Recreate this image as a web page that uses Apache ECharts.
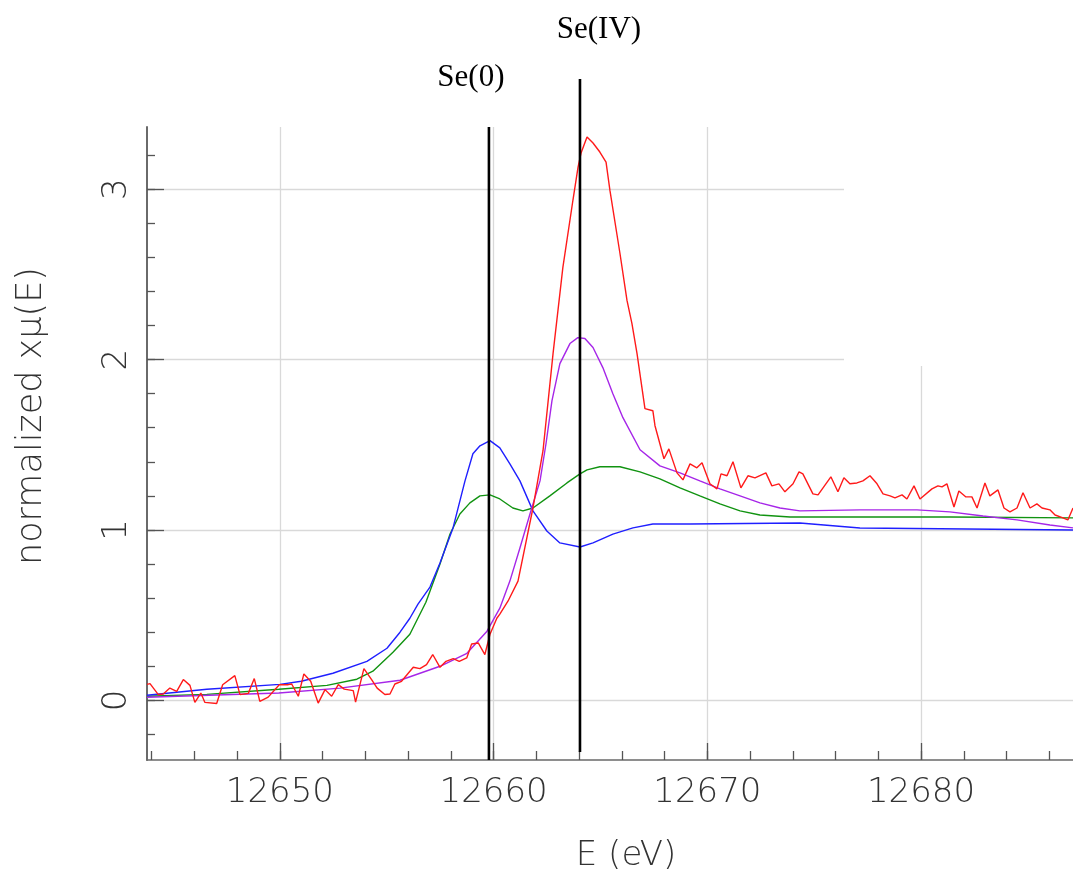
<!DOCTYPE html>
<html>
<head>
<meta charset="utf-8">
<script src="https://cdn.jsdelivr.net/npm/echarts@6/dist/echarts.min.js"></script>
<style>
  html, body { margin: 0; padding: 0; background: #ffffff; }
  #chart { width: 1073px; height: 873px; }
</style>
</head>
<body>
<div id="chart"></div>
<script>
// Se K-edge XANES, normalized absorption vs. photon energy

const E_MIN = 12643.78;
const E_MAX = 12687.11;
const MU_MIN = -0.35;
const MU_MAX = 3.365;

const xMajorTicks = [12650, 12660, 12670, 12680];
const xMinorTicks = [12644, 12646, 12648, 12650, 12652, 12654, 12656, 12658, 12660, 12662, 12664,
                     12666, 12668, 12670, 12672, 12674, 12676, 12678, 12680, 12682, 12684, 12686];
const yMajorTicks = [0, 1, 2, 3];
const yMinorTicks = [-0.2, 0, 0.2, 0.4, 0.6, 0.8, 1, 1.2, 1.4, 1.6, 1.8, 2, 2.2, 2.4, 2.6, 2.8, 3, 3.2];

// reference edge positions
const edgeEnergies = [12659.78, 12664.04];
const edgeLabels = ['Se(0)', 'Se(IV)'];

// [E (eV), normalized mu]
const blueData = [
  [12643.78, 0.030], [12646.58, 0.065], [12650.00, 0.094], [12651.00, 0.112], [12652.48, 0.159],
  [12654.07, 0.229], [12655.01, 0.306], [12655.62, 0.400], [12656.08, 0.482], [12656.46, 0.565],
  [12657.02, 0.665], [12657.49, 0.806], [12658.10, 1.012], [12658.66, 1.288], [12659.03, 1.447],
  [12659.36, 1.494], [12659.83, 1.524], [12660.29, 1.482], [12660.76, 1.388], [12661.23, 1.288],
  [12661.84, 1.112], [12662.49, 0.994], [12663.10, 0.924], [12664.04, 0.900], [12664.65, 0.924],
  [12665.58, 0.976], [12666.52, 1.012], [12667.45, 1.035], [12669.19, 1.035], [12674.33, 1.041],
  [12677.14, 1.012], [12687.11, 1.000]
];

const greenData = [
  [12643.78, 0.024], [12646.58, 0.035], [12649.95, 0.065], [12652.20, 0.088], [12653.60, 0.124],
  [12654.35, 0.171], [12655.29, 0.282], [12656.08, 0.388], [12656.83, 0.576], [12657.49, 0.800],
  [12657.96, 0.976], [12658.42, 1.094], [12658.89, 1.159], [12659.36, 1.200], [12659.83, 1.206],
  [12660.29, 1.182], [12660.90, 1.129], [12661.37, 1.112], [12661.84, 1.129], [12662.63, 1.200],
  [12663.43, 1.276], [12664.04, 1.329], [12664.37, 1.353], [12664.97, 1.371], [12665.91, 1.371],
  [12666.85, 1.341], [12667.78, 1.300], [12668.72, 1.247], [12669.65, 1.200], [12670.59, 1.153],
  [12671.53, 1.112], [12672.46, 1.088], [12673.87, 1.076], [12677.14, 1.076], [12681.35, 1.076],
  [12687.11, 1.071]
];

const purpleData = [
  [12643.78, 0.018], [12649.95, 0.043], [12652.81, 0.072], [12655.62, 0.118], [12657.49, 0.200],
  [12658.75, 0.276], [12659.69, 0.406], [12660.29, 0.541], [12660.76, 0.700], [12661.23, 0.894],
  [12661.70, 1.094], [12662.17, 1.288], [12662.45, 1.506], [12662.73, 1.759], [12663.10, 1.976],
  [12663.57, 2.094], [12663.94, 2.129], [12664.27, 2.124], [12664.65, 2.071], [12665.11, 1.953],
  [12665.58, 1.800], [12666.05, 1.659], [12666.85, 1.471], [12667.78, 1.376], [12668.72, 1.335],
  [12669.65, 1.288], [12670.59, 1.241], [12671.53, 1.200], [12672.46, 1.159], [12673.40, 1.129],
  [12674.33, 1.112], [12677.14, 1.118], [12679.81, 1.118], [12681.35, 1.106], [12682.90, 1.082],
  [12684.49, 1.059], [12686.03, 1.029], [12687.11, 1.012]
];

const redData = [
  [12643.78, 0.094], [12643.92, 0.098], [12644.31, 0.034], [12644.54, 0.037], [12644.85, 0.072],
  [12645.17, 0.053], [12645.48, 0.122], [12645.79, 0.088], [12646.02, -0.012], [12646.30, 0.043],
  [12646.49, -0.012], [12647.04, -0.018], [12647.32, 0.092], [12647.89, 0.145], [12648.13, 0.034],
  [12648.52, 0.041], [12648.80, 0.128], [12649.06, -0.006], [12649.45, 0.019], [12649.97, 0.092],
  [12650.39, 0.092], [12650.55, 0.096], [12650.86, 0.024], [12651.12, 0.155], [12651.44, 0.112],
  [12651.79, -0.016], [12652.11, 0.063], [12652.42, 0.024], [12652.73, 0.092], [12653.01, 0.066],
  [12653.43, 0.057], [12653.54, -0.010], [12653.93, 0.186], [12654.29, 0.122], [12654.55, 0.072],
  [12654.91, 0.034], [12655.15, 0.037], [12655.38, 0.096], [12655.69, 0.112], [12656.24, 0.194],
  [12656.55, 0.186], [12656.86, 0.210], [12657.15, 0.269], [12657.49, 0.194], [12657.77, 0.229],
  [12658.11, 0.245], [12658.39, 0.229], [12658.74, 0.249], [12658.97, 0.331], [12659.28, 0.337],
  [12659.59, 0.269], [12659.83, 0.388], [12660.15, 0.482], [12660.29, 0.506], [12660.67, 0.582],
  [12661.14, 0.700], [12661.84, 1.129], [12662.31, 1.465], [12662.78, 2.035], [12663.24, 2.541],
  [12663.71, 2.935], [12663.95, 3.129], [12664.09, 3.212], [12664.37, 3.306], [12664.65, 3.271],
  [12664.97, 3.218], [12665.26, 3.159], [12665.44, 2.994], [12665.91, 2.624], [12666.24, 2.347],
  [12666.47, 2.212], [12666.71, 2.035], [12667.08, 1.712], [12667.45, 1.700], [12667.55, 1.612],
  [12667.97, 1.418], [12668.20, 1.476], [12668.58, 1.335], [12668.86, 1.294], [12669.19, 1.388],
  [12669.51, 1.365], [12669.75, 1.394], [12670.12, 1.271], [12670.45, 1.241], [12670.64, 1.329],
  [12670.92, 1.318], [12671.20, 1.400], [12671.57, 1.247], [12671.90, 1.318], [12672.23, 1.306],
  [12672.74, 1.335], [12673.02, 1.259], [12673.35, 1.271], [12673.63, 1.224], [12674.01, 1.271],
  [12674.29, 1.341], [12674.47, 1.329], [12674.94, 1.212], [12675.18, 1.206], [12675.78, 1.312],
  [12676.11, 1.224], [12676.39, 1.306], [12676.67, 1.271], [12677.00, 1.276], [12677.28, 1.288],
  [12677.61, 1.318], [12677.94, 1.271], [12678.22, 1.212], [12678.55, 1.200], [12678.78, 1.188],
  [12679.11, 1.206], [12679.34, 1.182], [12679.67, 1.259], [12679.95, 1.182], [12680.51, 1.241],
  [12680.79, 1.259], [12680.98, 1.253], [12681.21, 1.271], [12681.54, 1.135], [12681.77, 1.229],
  [12682.10, 1.194], [12682.38, 1.194], [12682.62, 1.129], [12682.99, 1.276], [12683.22, 1.200],
  [12683.60, 1.235], [12683.88, 1.129], [12684.16, 1.106], [12684.49, 1.129], [12684.77, 1.218],
  [12685.10, 1.129], [12685.42, 1.153], [12685.66, 1.129], [12686.03, 1.118], [12686.27, 1.088],
  [12686.64, 1.071], [12686.87, 1.059], [12687.11, 1.129]
];

const LABEL_FONT = "'DejaVu Sans', Roboto, sans-serif";

const tickFont = {
  fontFamily: LABEL_FONT,
  fontWeight: 200,
  fontSize: 34,
  color: '#333333'
};

function plain(v) { return String(v); }

function curve(name, data, color) {
  return {
    name: name,
    type: 'line',
    xAxisIndex: 0,
    yAxisIndex: 0,
    data: data,
    showSymbol: false,
    symbol: 'none',
    lineStyle: { color: color, width: 1.4 },
    animation: false,
    z: 3
  };
}

function edgeLine(i, gridIdx) {
  const e = edgeEnergies[i];
  const yLo = gridIdx === 0 ? MU_MIN : 0;
  const yHi = gridIdx === 0 ? MU_MAX : 1;
  const dx = i === 0 ? -18 : 19;
  return {
    name: edgeLabels[i],
    type: 'line',
    xAxisIndex: gridIdx === 0 ? 0 : 2,
    yAxisIndex: gridIdx === 0 ? 0 : 2,
    data: [
      { value: [e, yLo] },
      { value: [e, yHi], label: {
          show: true, position: 'top', distance: 34, offset: [dx, 0],
          formatter: edgeLabels[i],
          fontFamily: 'Liberation Serif', fontSize: 31, color: '#000000'
        } }
    ],
    showSymbol: true,
    symbol: 'circle',
    symbolSize: 0,
    lineStyle: { color: '#000000', width: 2.6 },
    clip: false,
    animation: false,
    z: 5
  };
}

const chart = echarts.init(document.getElementById('chart'), null, { renderer: 'canvas' });

chart.setOption({
  backgroundColor: '#ffffff',
  animation: false,
  grid: [
    { left: 147, right: 0, top: 127, bottom: 113 },
    { left: 147, right: 0, top: 79, bottom: 121 }
  ],
  xAxis: [
    {
      type: 'value', gridIndex: 0, min: E_MIN, max: E_MAX,
      axisLine: { show: true, onZero: false, lineStyle: { color: '#6a6a6a', width: 1.6 } },
      axisTick: { show: true, inside: true, length: 17, customValues: xMajorTicks,
                  lineStyle: { color: '#555555', width: 1.3 } },
      axisLabel: Object.assign({ show: true, margin: 16, customValues: xMajorTicks, formatter: plain }, tickFont),
      splitLine: { show: true, lineStyle: { color: '#d9d9d9', width: 1.3 } }
    },
    {
      type: 'value', gridIndex: 0, min: E_MIN, max: E_MAX, position: 'bottom', offset: 0,
      axisLine: { show: false, onZero: false },
      axisTick: { show: true, inside: true, length: 9, customValues: xMinorTicks,
                  lineStyle: { color: '#555555', width: 1.3 } },
      axisLabel: { show: false },
      splitLine: { show: false }
    },
    {
      type: 'value', gridIndex: 1, min: E_MIN, max: E_MAX, show: false
    }
  ],
  yAxis: [
    {
      type: 'value', gridIndex: 0, min: MU_MIN, max: MU_MAX,
      axisLine: { show: true, onZero: false, lineStyle: { color: '#6a6a6a', width: 2 } },
      axisTick: { show: true, inside: true, length: 17, customValues: yMajorTicks,
                  lineStyle: { color: '#555555', width: 1.3 } },
      axisLabel: Object.assign({ show: true, margin: 13, rotate: 90, customValues: yMajorTicks, formatter: plain }, tickFont),
      splitLine: { show: true, lineStyle: { color: '#d9d9d9', width: 1.3 } }
    },
    {
      type: 'value', gridIndex: 0, min: MU_MIN, max: MU_MAX, position: 'left', offset: 0,
      axisLine: { show: false, onZero: false },
      axisTick: { show: true, inside: true, length: 8, customValues: yMinorTicks,
                  lineStyle: { color: '#555555', width: 1.3 } },
      axisLabel: { show: false },
      splitLine: { show: false }
    },
    {
      type: 'value', gridIndex: 1, min: 0, max: 1, show: false
    }
  ],
  graphic: {
    elements: [
      { type: 'rect', z: 1, shape: { x: 844, y: 90, width: 240, height: 276 },
        style: { fill: '#ffffff' } },
      { type: 'text', x: 626, y: 856, z: 10,
        style: { text: 'E (eV)', align: 'center', verticalAlign: 'middle',
                 fontFamily: LABEL_FONT, fontWeight: 200, fontSize: 34, fill: '#333333' } },
      { type: 'text', x: 32, y: 416, rotation: Math.PI / 2, z: 10,
        style: { text: 'normalized x\u03bc(E)', align: 'center', verticalAlign: 'middle',
                 fontFamily: LABEL_FONT, fontWeight: 200, fontSize: 35, fill: '#333333' } }
    ]
  },
  series: [
    curve('green', greenData, '#119311'),
    curve('blue', blueData, '#1f1fff'),
    curve('purple', purpleData, '#a626e8'),
    curve('red', redData, '#ff1a1a'),
    edgeLine(0, 0),
    edgeLine(1, 1)
  ]
});
</script>
</body>
</html>
